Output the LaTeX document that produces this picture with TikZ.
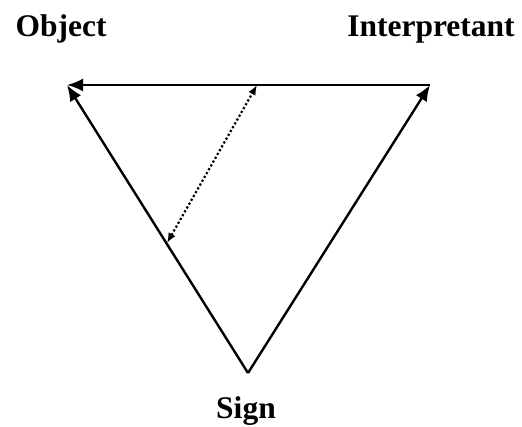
\documentclass[tikz,border=0pt]{standalone}
\usepackage{fontspec}
\setmainfont{Liberation Serif}
\usetikzlibrary{arrows.meta}
\tikzset{
  lbl/.style={font=\fontsize{31.5}{33}\selectfont\bfseries, inner sep=0pt, anchor=base},
  edge/.style={line width=2.4pt, -{Latex[length=16pt,width=13pt]}},
  dotline/.style={line width=2.2pt, dash pattern=on 2.2pt off 2.2pt, {Latex[length=10pt,width=8pt]}-{Latex[length=10pt,width=8pt]}}
}
\begin{document}
\begin{tikzpicture}[x=1pt,y=-1pt]
\useasboundingbox (0,0) rectangle (522,427);
\node[lbl] (objl) at (61,37) {Object};
\node[lbl] (intl) at (431,37) {Interpretant};
\node[lbl] (signl) at (246,418) {Sign};
\coordinate (O) at (67,85);
\coordinate (I) at (430,85);
\coordinate (S) at (248,373);
\coordinate (D1) at (257,85);
\coordinate (D2) at (167,243);
\draw[edge] (S) -- (O);
\draw[edge] (S) -- (I);
\draw[edge] (I) -- (O);
\draw[dotline] (D2) -- (D1);
\end{tikzpicture}
\end{document}
